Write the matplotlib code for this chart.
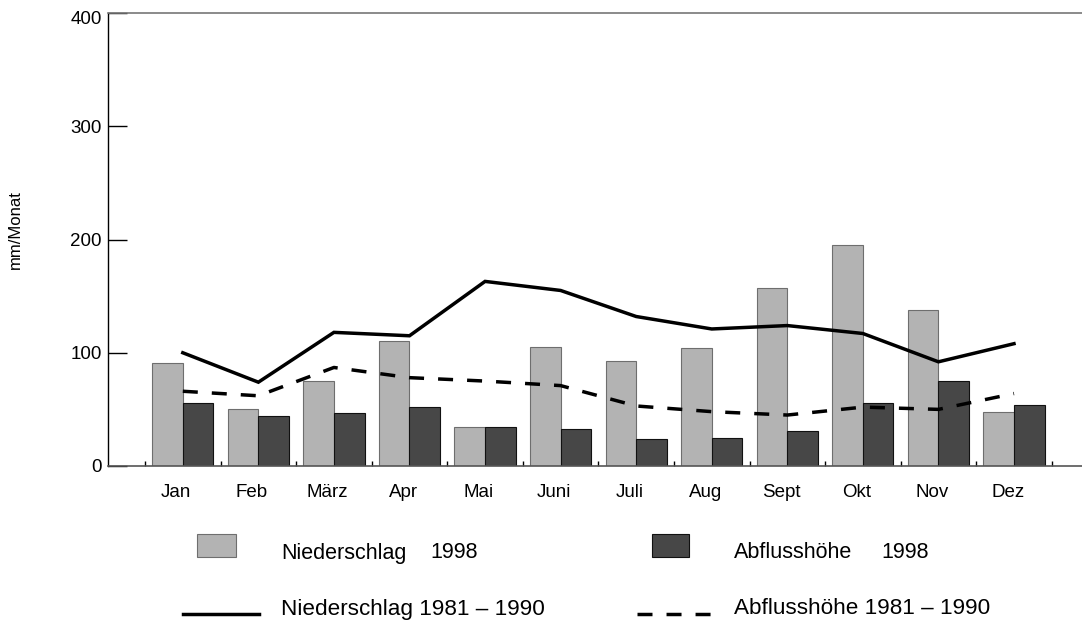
import matplotlib
matplotlib.use("Agg")
import matplotlib.pyplot as plt
from matplotlib.patches import Rectangle
from matplotlib.lines import Line2D
from matplotlib.ticker import FixedLocator, NullFormatter
from matplotlib.transforms import ScaledTranslation
import numpy as np

plt.rcParams['font.family'] = ['Liberation Sans', 'DejaVu Sans']
plt.rcParams['lines.scale_dashes'] = False

monate = ['Jan', 'Feb', 'März', 'Apr', 'Mai', 'Juni', 'Juli', 'Aug', 'Sept', 'Okt', 'Nov', 'Dez']
niederschlag_1998 = [91, 50, 75, 110, 34, 105, 93, 104, 157, 195, 138, 48]
abfluss_1998 = [56, 44, 47, 52, 34, 33, 24, 25, 31, 56, 75, 54]
niederschlag_1981_1990 = [100, 74, 118, 115, 163, 155, 132, 121, 124, 117, 92, 108]
abfluss_1981_1990 = [66, 62, 87, 78, 75, 71, 53, 48, 45, 52, 50, 64]
y_ticks = [0, 100, 200, 300, 400]

W, H = 1082, 623
DPI = 100
fig = plt.figure(figsize=(W / DPI, H / DPI), dpi=DPI)
ax = fig.add_axes([108 / W, (H - 466) / H, 974 / W, 453 / H])

LIGHT = '#b3b3b3'
DARK = '#474747'

x = np.arange(len(monate))
bw = 0.405
ax.bar(x - bw / 2, niederschlag_1998, width=bw, color=LIGHT, edgecolor='#6e6e6e', linewidth=0.8, zorder=2)
ax.bar(x + bw / 2, abfluss_1998, width=bw, color=DARK, edgecolor='#111111', linewidth=0.8, zorder=2)

ax.plot(x, niederschlag_1981_1990, color='black', linewidth=2.5, solid_joinstyle='miter', zorder=3)
ax.plot(x, abfluss_1981_1990, color='black', linewidth=2.5, dashes=(10.8, 10.1), zorder=3)

ax.set_xlim(-0.99, 11.9)
ax.set_ylim(0, 400)

# spines
ax.spines['right'].set_visible(False)
ax.spines['top'].set_color('#777777')
ax.spines['top'].set_linewidth(1.2)
ax.spines['bottom'].set_color('#555555')
ax.spines['bottom'].set_linewidth(1.2)
ax.spines['left'].set_color('black')
ax.spines['left'].set_linewidth(1.0)

# y ticks drawn inward
ax.set_yticks(y_ticks)
ax.tick_params(axis='y', direction='in', length=13.7, width=1.0, color='black',
               labelsize=13.5, pad=4.5)

# month labels without tick marks, boundary ticks as minor ticks
ax.xaxis.set_major_locator(FixedLocator(x - 0.085))
ax.set_xticklabels(monate)
ax.xaxis.set_minor_locator(FixedLocator(np.arange(-0.5, 12, 1.0)))
ax.xaxis.set_minor_formatter(NullFormatter())
ax.tick_params(axis='x', which='major', length=0, labelsize=13.5, pad=13)
ax.tick_params(axis='x', which='minor', direction='in', length=3.6, width=1.0, color='black')

ax.set_ylabel('mm/Monat', fontsize=12)
ax.yaxis.set_label_coords(-0.0873, 0.521)

# keep the topmost value label inside the canvas
top_label = ax.yaxis.get_major_ticks()[-1].label1
top_label.set_transform(top_label.get_transform() + ScaledTranslation(0, -5 / DPI, fig.dpi_scale_trans))


def fx(px):
    return px / W


def fy(py):
    return 1 - py / H


# legend, first row: bar swatches
fig.add_artist(Rectangle((fx(197), fy(557)), fx(236) - fx(197), fy(534) - fy(557),
                         facecolor=LIGHT, edgecolor='#6e6e6e', linewidth=0.8,
                         transform=fig.transFigure))
fig.add_artist(Rectangle((fx(652), fy(557)), fx(689) - fx(652), fy(534) - fy(557),
                         facecolor=DARK, edgecolor='#111111', linewidth=0.8,
                         transform=fig.transFigure))
fig.text(fx(281), fy(553), 'Niederschlag', fontsize=15.5, va='center', ha='left')
fig.text(fx(430), fy(553), '1998', fontsize=15.5, va='center', ha='left')
fig.text(fx(734), fy(553), 'Abflusshöhe', fontsize=15.5, va='center', ha='left')
fig.text(fx(881), fy(553), '1998', fontsize=15.5, va='center', ha='left')

# legend, second row: line samples
fig.add_artist(Line2D([fx(183), fx(259)], [fy(614), fy(614)], color='black',
                      linewidth=2.5, transform=fig.transFigure))
fig.add_artist(Line2D([fx(637), fx(711)], [fy(614), fy(614)], color='black',
                      linewidth=2.5, dashes=(10.8, 10.1), transform=fig.transFigure))
fig.text(fx(281), fy(609), 'Niederschlag 1981 – 1990', fontsize=16.2, va='center', ha='left')
fig.text(fx(734), fy(609), 'Abflusshöhe 1981 – 1990', fontsize=16.2, va='center', ha='left')

fig.savefig('out.png', dpi=DPI)
